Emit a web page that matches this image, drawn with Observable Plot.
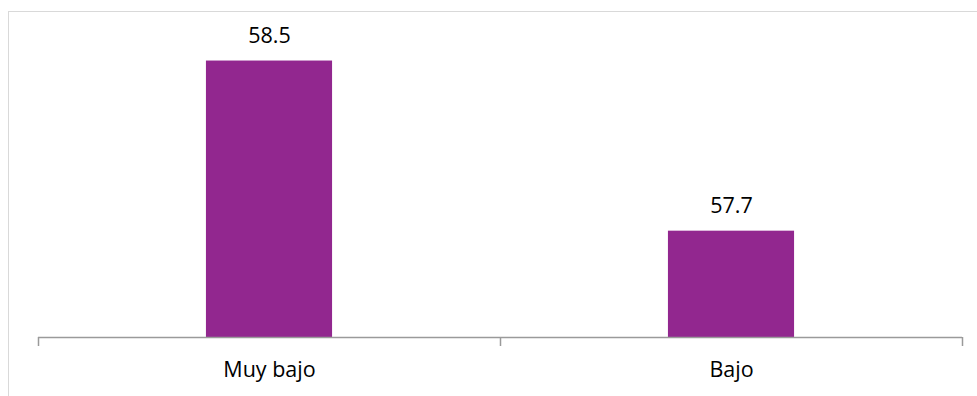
<!DOCTYPE html>
<html>
<head>
<meta charset="utf-8">
<script src="https://cdn.jsdelivr.net/npm/d3@7"></script>
<script src="https://cdn.jsdelivr.net/npm/@observablehq/plot@0.6"></script>
<style>
  html, body { margin: 0; padding: 0; background: #fff; }
  #wrap { position: relative; width: 977px; height: 396px; overflow: hidden; }
  #frame { position: absolute; left: 8px; top: 11px; width: 1000px; height: 400px;
           border-top: 1px solid #d9d9d9; border-left: 1px solid #d9d9d9; pointer-events: none; }
</style>
</head>
<body>
<div id="wrap"><div id="frame"></div></div>
<script>
const categories = ["Muy bajo", "Bajo"];
const values = [58.5, 57.7];
const valueLabels = ["58.5", "57.7"];
const yDomain = [57.2, 58.7];

const data = categories.map((c, i) => ({ i, category: c, value: values[i], label: valueLabels[i] }));
const barFrac = 0.273;
const font = "'Open Sans', sans-serif";

const chart = Plot.plot({
  width: 977,
  height: 396,
  marginLeft: 38,
  marginRight: 15,
  marginTop: 18,
  marginBottom: 59,
  style: { fontFamily: font, background: "transparent", overflow: "visible" },
  x: { type: "linear", domain: [0, categories.length], axis: null },
  y: { domain: yDomain, axis: null },
  marks: [
    Plot.rectY(data, {
      x1: d => d.i + (1 - barFrac) / 2,
      x2: d => d.i + (1 + barFrac) / 2,
      y1: yDomain[0],
      y2: "value",
      fill: "#92278f"
    }),
    Plot.ruleY([yDomain[0]], { stroke: "#9a9a9a", strokeWidth: 1.5 }),
    Plot.ruleX(d3.range(categories.length + 1), {
      y1: yDomain[0], y2: yDomain[0], insetBottom: -9, stroke: "#9a9a9a", strokeWidth: 1.5
    }),
    Plot.text(data, {
      x: d => d.i + 0.5, y: "value", text: "label",
      textAnchor: "middle", lineAnchor: "bottom", dy: -18,
      fontSize: 21.5, fill: "#000"
    }),
    Plot.text(data, {
      x: d => d.i + 0.5, y: yDomain[0], text: "category",
      textAnchor: "middle", lineAnchor: "top", dy: 24,
      fontSize: 21.5, fill: "#000"
    })
  ]
});
document.getElementById("wrap").prepend(chart);
</script>
</body>
</html>
